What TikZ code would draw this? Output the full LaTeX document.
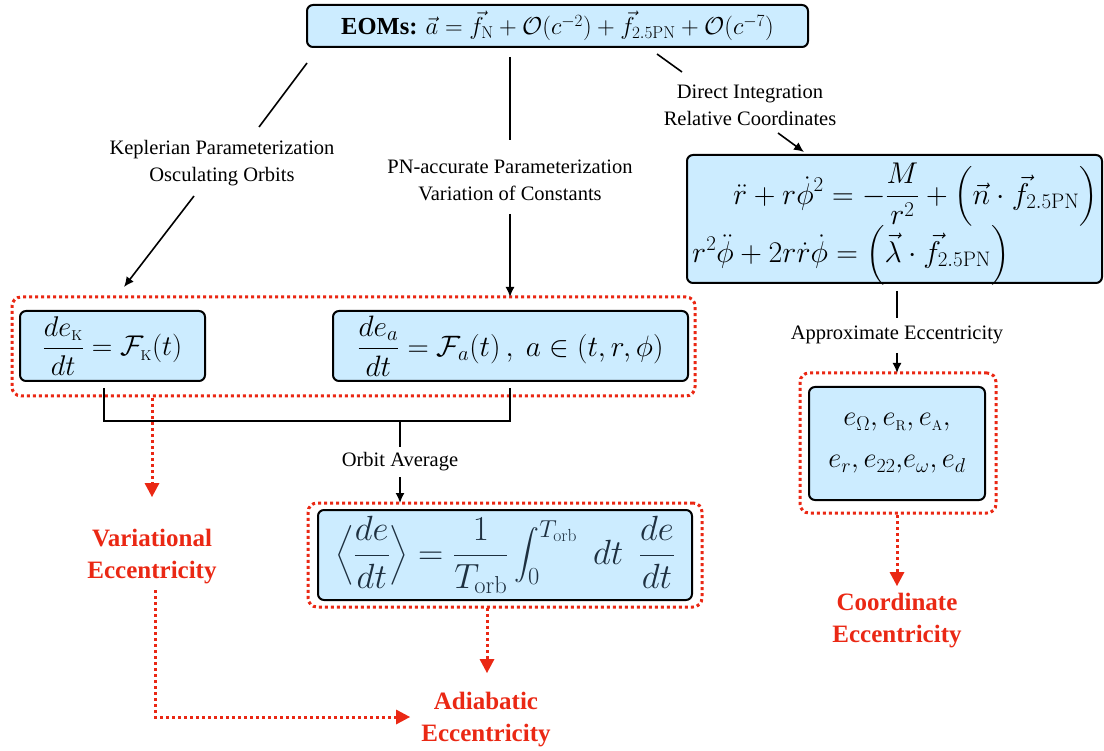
\RequirePackage{fix-cm}
\documentclass[tikz,border=0pt]{standalone}
\usepackage{amsmath}
\usepackage[no-math]{fontspec}
\setmainfont{Liberation Serif}
\usetikzlibrary{arrows.meta}
\definecolor{boxblue}{RGB}{204,236,255}
\definecolor{myred}{RGB}{234,40,20}
\definecolor{avgtext}{RGB}{30,48,64}
\newcommand{\ssub}[1]{{\scriptscriptstyle\rm #1}}
\tikzset{
  blubox/.style={draw=black, line width=2pt, rounded corners=6pt, fill=boxblue, inner sep=0pt},
  reddot/.style={draw=myred, line width=3pt, dash pattern=on 3pt off 3pt, rounded corners=9pt, inner sep=0pt},
  conn/.style={line width=1.6pt, draw=black},
  blkarrow/.style={conn, -{Latex[length=10pt,width=9pt]}},
  redarrow/.style={draw=myred, line width=3pt, dash pattern=on 3pt off 3pt, -{Triangle[length=14pt,width=15pt,line width=0pt]}},
  lbl/.style={align=center, font=\fontsize{20.5}{27}\selectfont, inner sep=0pt},
  redlbl/.style={align=center, text=myred, font=\fontsize{25}{32}\selectfont\bfseries, inner sep=0pt},
  mathbig/.style={font=\fontsize{28.5}{34}\selectfont},
  eqline/.style={font=\fontsize{30}{36}\selectfont, inner sep=0pt}
}
\begin{document}
\begin{tikzpicture}[x=1pt,y=-1pt]
\useasboundingbox (0,0) rectangle (1104,751);
% boxes
\node[blubox, minimum width=501pt, minimum height=42pt, font=\fontsize{24.5}{30}\selectfont] (eom) at (557.5,26)
  {\textbf{EOMs:} $\vec{a}=\vec{f}_{\rm N}+\mathcal{O}(c^{-2})+\vec{f}_{2.5\rm PN}+\mathcal{O}(c^{-7})$};
\node[reddot, minimum width=683pt, minimum height=99pt] (grp) at (353.5,346.5) {};
\node[blubox, mathbig, minimum width=185pt, minimum height=70pt] (kbox) at (112.5,346)
  {$\displaystyle\frac{de_\ssub{K}}{dt}=\mathcal{F}_\ssub{K}(t)$};
\node[blubox, font=\fontsize{29.5}{34}\selectfont, minimum width=355pt, minimum height=70pt] (fabox) at (510.5,346)
  {$\displaystyle\frac{de_a}{dt}=\mathcal{F}_a(t)\,,\ a\in(t,r,\phi)$};
\node[blubox, minimum width=415pt, minimum height=128pt] (dbox) at (894.5,219) {};
\node[eqline, anchor=east] (dl1) at (1098,195)
  {$\displaystyle\ddot r+r\dot\phi^2=-\frac{M}{r^2}+\Big(\vec n\cdot\vec f_{2.5\rm PN}\Big)$};
\node[eqline, anchor=west] (dl2) at (692,255)
  {$\displaystyle r^2\ddot\phi+2r\dot r\dot\phi=\Big(\vec\lambda\cdot\vec f_{2.5\rm PN}\Big)$};
\node[reddot, minimum width=196pt, minimum height=140pt] (egrp) at (898,443) {};
\node[blubox, mathbig, minimum width=176pt, minimum height=113pt, align=center] (ebox) at (897,443.5)
  {$e_\Omega,e_\ssub{R},e_\ssub{A},$\\[8pt] $e_r,e_{22},\!e_\omega,e_d$};
\node[reddot, minimum width=394pt, minimum height=104pt] (agrp) at (505,555) {};
\node[blubox, font=\fontsize{35}{40}\selectfont, text=avgtext, minimum width=374pt, minimum height=90pt] (abox) at (505,555)
  {$\displaystyle\Big\langle\frac{de}{dt}\Big\rangle=\frac{1}{T_{\rm orb}}\int_0^{T_{\rm orb}}\;dt\;\,\frac{de}{dt}$};
% labels
\node[lbl] (klab) at (222,163) {Keplerian Parameterization\\Osculating Orbits};
\node[lbl] (plab) at (510,180) {PN-accurate Parameterization\\Variation of Constants};
\node[lbl] (dlab) at (750,105) {Direct Integration\\Relative Coordinates};
\node[lbl] (olab) at (400,462) {Orbit Average};
\node[lbl] (xlab) at (897,335) {Approximate Eccentricity};
\node[redlbl] (var) at (152,557) {Variational\\Eccentricity};
\node[redlbl] (adi) at (486,720) {Adiabatic\\Eccentricity};
\node[redlbl] (coo) at (897,621) {Coordinate\\Eccentricity};
% coordinates
\coordinate (k1) at (307,63); \coordinate (k2) at (259,127);
\coordinate (k3) at (194,196); \coordinate (k4) at (124,287);
\coordinate (p1) at (510,57); \coordinate (p2) at (510,140);
\coordinate (p3) at (510,214); \coordinate (p4) at (510,297);
\coordinate (d1) at (657,54); \coordinate (d2) at (682,72);
\coordinate (d3) at (778,133); \coordinate (d4) at (804,152);
\coordinate (j1) at (104,388); \coordinate (j2) at (104,421);
\coordinate (j3) at (510,421); \coordinate (j4) at (510,388);
\coordinate (j5) at (400,421); \coordinate (j6) at (400,447);
\coordinate (j7) at (400,477); \coordinate (j8) at (400,503);
\coordinate (x1) at (897,291); \coordinate (x2) at (897,318);
\coordinate (x3) at (897,353); \coordinate (x4) at (897,373);
\coordinate (r1) at (152,398); \coordinate (r2) at (152,497);
\coordinate (r3) at (155,590); \coordinate (r4) at (155,717); \coordinate (r5) at (410,717);
\coordinate (r6) at (487,608); \coordinate (r7) at (487,673);
\coordinate (r8) at (897,515); \coordinate (r9) at (897,586);
% connectors
\draw[conn] (k1) -- (k2);
\draw[blkarrow] (k3) -- (k4);
\draw[conn] (p1) -- (p2);
\draw[blkarrow] (p3) -- (p4);
\draw[conn] (d1) -- (d2);
\draw[blkarrow] (d3) -- (d4);
\draw[conn] (j1) -- (j2) -- (j3) -- (j4);
\draw[conn] (j5) -- (j6);
\draw[blkarrow] (j7) -- (j8);
\draw[conn] (x1) -- (x2);
\draw[blkarrow] (x3) -- (x4);
\draw[redarrow] (r1) -- (r2);
\draw[redarrow] (r3) -- (r4) -- (r5);
\draw[redarrow] (r6) -- (r7);
\draw[redarrow] (r8) -- (r9);
\end{tikzpicture}
\end{document}
